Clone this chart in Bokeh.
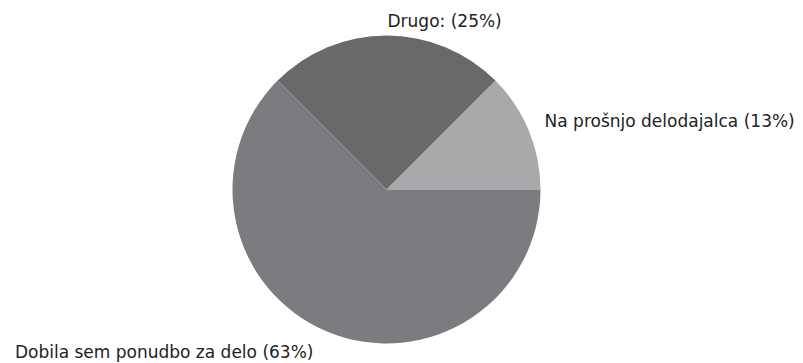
import math
from bokeh.plotting import figure
from bokeh.models import ColumnDataSource
from bokeh.core.properties import value
from bokeh.embed import file_html
from bokeh.resources import INLINE

categories = ["Na prošnjo delodajalca", "Drugo:", "Dobila sem ponudbo za delo"]
shares = [12.5, 25.0, 62.5]
pct_labels = ["(13%)", "(25%)", "(63%)"]
colors = ["#a9a9ab", "#69696b", "#7c7c80"]

R = 154
R_LABEL = 170

starts, ends, mids = [], [], []
acc = 0.0
total = sum(shares)
for s in shares:
    a0 = acc / total * 2 * math.pi
    acc += s
    a1 = acc / total * 2 * math.pi
    starts.append(a0)
    ends.append(a1)
    mids.append((a0 + a1) / 2)

src = ColumnDataSource(dict(start=starts, end=ends, color=colors))

p = figure(width=803, height=363, output_backend="svg", toolbar_location=None,
           x_range=(-386, 417), y_range=(-174, 189), min_border=0)
p.axis.visible = False
p.grid.visible = False
p.outline_line_color = None
p.background_fill_color = "white"
p.border_fill_color = "white"

p.wedge(x=0, y=0, radius=R, start_angle="start", end_angle="end",
        fill_color="color", line_color=None, source=src)

lx, ly, txt, align, xoff, yoff = [], [], [], [], [], []
for cat, pl, m in zip(categories, pct_labels, mids):
    lx.append(R_LABEL * math.cos(m))
    ly.append(R_LABEL * math.sin(m))
    txt.append(f"{cat} {pl}")
    if math.cos(m) < -0.1:
        align.append("right"); xoff.append(-8); yoff.append(5)
    else:
        align.append("left"); xoff.append(1); yoff.append(-3 if math.cos(m) > 0.1 else 1)

lsrc = ColumnDataSource(dict(x=lx, y=ly, text=txt, align=align, xo=xoff, yo=yoff))
p.text(x="x", y="y", text="text", source=lsrc, text_align="align",
       text_baseline="middle", x_offset="xo", y_offset="yo",
       text_font=value("DejaVu Sans"), text_font_size="17px", text_color="#222222")

open("out.html", "w").write(file_html(p, INLINE))
